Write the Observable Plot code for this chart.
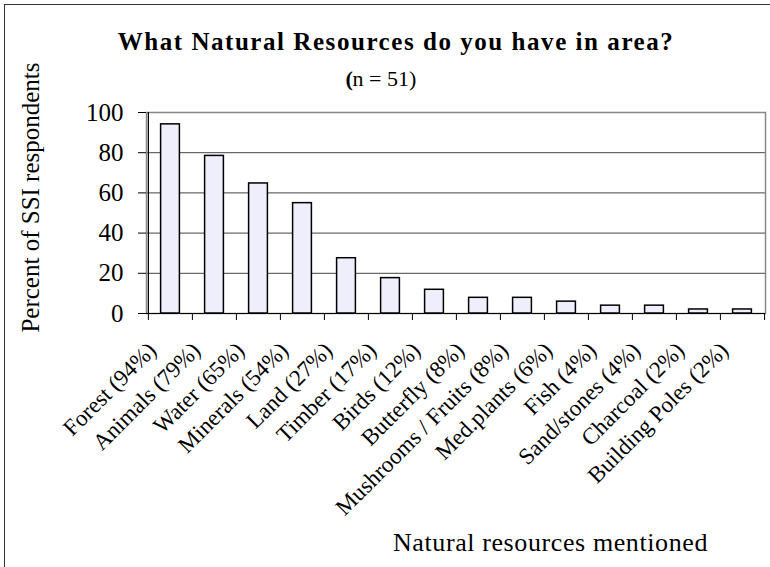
<!DOCTYPE html>
<html><head><meta charset="utf-8">
<script src="https://cdn.jsdelivr.net/npm/d3@7"></script>
<script src="https://cdn.jsdelivr.net/npm/@observablehq/plot@0.6"></script>
<style>
body{margin:0;background:#fff;}
#wrap{position:relative;width:770px;height:567px;overflow:hidden;background:#fff;}
#border{position:absolute;left:4px;top:4px;width:800px;height:620px;border:1.5px solid #333;box-sizing:border-box;}
#chart{position:absolute;left:0;top:0;}
</style></head><body><div id="wrap"><div id="border"></div><div id="chart"></div></div>
<script>
const categories = ["Forest (94%)","Animals (79%)","Water (65%)","Minerals (54%)","Land (27%)","Timber (17%)","Birds (12%)","Butterfly (8%)","Mushrooms / Fruits (8%)","Med.plants (6%)","Fish (4%)","Sand/stones (4%)","Charcoal (2%)","Building Poles (2%)"];
const values = [94.1, 78.4, 64.7, 54.9, 27.5, 17.6, 11.8, 7.8, 7.8, 5.9, 3.9, 3.9, 2.0, 2.0];
const yTicks = [0, 20, 40, 60, 80, 100];
const gridTicks = [20, 40, 60, 80];
const titleText = "What Natural Resources do you have in area?";
const subtitleOpen = "(";
const subtitleText = "n = 51)";
const yLabel = "Percent of SSI respondents";
const xLabel = "Natural resources mentioned";

const data = categories.map((c, i) => ({category: c, value: values[i]}));
const W = 770, H = 567, mL = 146, mR = 5, mT = 112, mB = 254;
const step = (W - mL - mR) / categories.length;
const font = "'Liberation Serif', 'Times New Roman', serif";

const plot = Plot.plot({
  width: W, height: H,
  marginLeft: mL, marginRight: mR, marginTop: mT, marginBottom: mB,
  style: {fontFamily: font, background: "transparent", color: "#000", overflow: "visible"},
  x: {domain: categories, padding: 0, label: null},
  y: {domain: [0, 100], label: null},
  marks: [
    Plot.gridY(gridTicks, {stroke: "#444", strokeOpacity: 1}),
    Plot.frame({stroke: "#888", strokeWidth: 1.5}),
    Plot.barY(data, {x: "category", y: "value", fill: "#eeeefc", stroke: "#000", strokeWidth: 1.5, insetLeft: 12.6, insetRight: 12.6}),
    Plot.ruleY([0], {stroke: "#000", strokeWidth: 1.2}),
    Plot.ruleX([categories[0]], {y1: 0, y2: 100, dx: -step / 2, stroke: "#000", strokeWidth: 1.2}),
    Plot.ruleX(categories, {y1: 0, y2: 0, insetBottom: -7, dx: -step / 2, stroke: "#000"}),
    Plot.ruleX([categories[categories.length - 1]], {y1: 0, y2: 0, insetBottom: -7, dx: step / 2, stroke: "#000"}),
    Plot.axisY(yTicks, {tickSize: 8, tickPadding: 15, fontSize: 25, label: null, stroke: "#000"}),
    Plot.axisX({tickSize: 0, tickPadding: 33, dx: -18, tickRotate: -45, fontSize: 23, label: null}),
    Plot.text([titleText], {frameAnchor: "top", lineAnchor: "middle", dy: -71, dx: -60, fontSize: 25, fontWeight: "bold"}),
    Plot.text([subtitleOpen], {frameAnchor: "top-left", lineAnchor: "middle", textAnchor: "start", dy: -34, dx: 199, fontSize: 22, fontWeight: "bold"}),
    Plot.text([subtitleText], {frameAnchor: "top-left", lineAnchor: "middle", textAnchor: "start", dy: -34, dx: 206, fontSize: 22}),
    Plot.text([yLabel], {frameAnchor: "left", lineAnchor: "middle", textAnchor: "middle", dx: -116, dy: -15.5, rotate: -90, fontSize: 25}),
    Plot.text([xLabel], {frameAnchor: "bottom", lineAnchor: "middle", dx: 94.5, dy: 228.7, fontSize: 26})
  ]
});
const spacing = new Map([[titleText, "1.55px"], [xLabel, "0.6px"]]);
d3.select(plot).selectAll("text").each(function() {
  const s = spacing.get(this.textContent);
  if (s) this.style.letterSpacing = s;
});
document.getElementById("chart").appendChild(plot);
</script>
</body></html>
